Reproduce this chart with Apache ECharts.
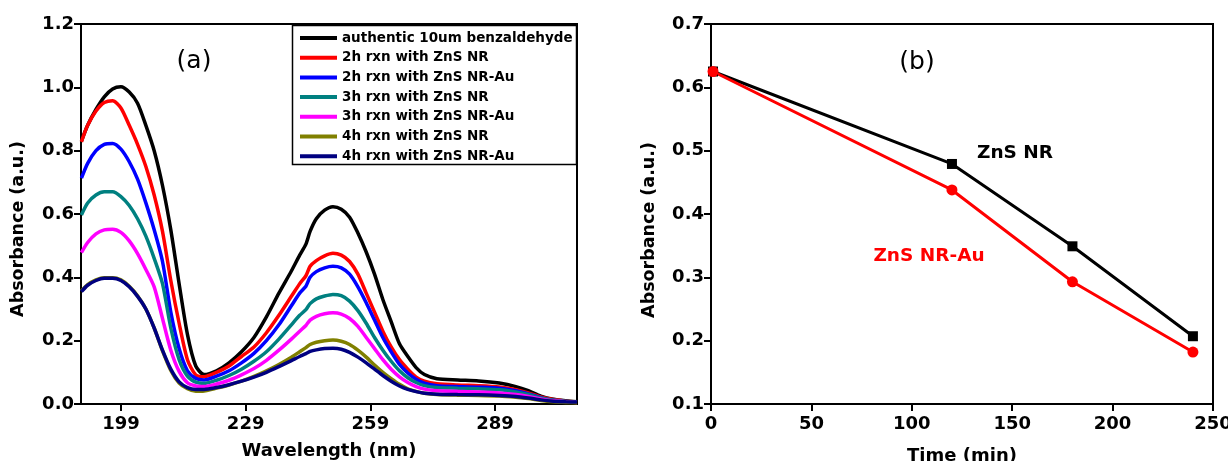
<!DOCTYPE html>
<html>
<head>
<meta charset="utf-8">
<script src="https://cdn.jsdelivr.net/npm/echarts@6/dist/echarts.min.js"></script>
<style>
  html, body { margin: 0; padding: 0; background: #fff; }
  #chart { width: 1228px; height: 461px; }
</style>
</head>
<body>
<div id="chart"></div>
<script>
// panel (a) - UV-vis spectra
var wavelength = [189.5, 191, 193, 195, 197, 199, 201, 203, 205, 207, 209, 211, 213, 215, 217, 219,
    222, 225, 228, 231, 234, 237, 240, 242, 243.5, 244.5, 246, 248, 250, 252, 254, 256, 258, 260,
    262, 264, 266, 268, 270, 272, 275, 280, 285, 290, 294, 297, 300, 303, 306, 308.7];
var wlTicks = [199, 229, 259, 289];

var authentic = [0.83, 0.88, 0.93, 0.97, 0.995, 1.002, 0.985, 0.95, 0.88, 0.80, 0.69, 0.55, 0.38, 0.22, 0.12, 0.093,
    0.105, 0.13, 0.165, 0.21, 0.275, 0.35, 0.42, 0.47, 0.505, 0.545, 0.585, 0.612, 0.623, 0.615, 0.59, 0.54, 0.48, 0.41,
    0.33, 0.26, 0.19, 0.15, 0.115, 0.093, 0.08, 0.076, 0.073, 0.066, 0.055, 0.042, 0.025, 0.015, 0.01, 0.007];
var nr2h = [0.828, 0.88, 0.925, 0.952, 0.958, 0.935, 0.88, 0.82, 0.75, 0.66, 0.545, 0.39, 0.255, 0.14, 0.092, 0.086,
    0.1, 0.12, 0.15, 0.18, 0.225, 0.28, 0.34, 0.38, 0.405, 0.435, 0.453, 0.468, 0.476, 0.47, 0.45, 0.41, 0.35, 0.29,
    0.23, 0.18, 0.14, 0.11, 0.085, 0.072, 0.064, 0.06, 0.058, 0.054, 0.045, 0.035, 0.022, 0.014, 0.009, 0.007];
var au2h = [0.713, 0.76, 0.8, 0.82, 0.823, 0.805, 0.765, 0.71, 0.635, 0.55, 0.45, 0.29, 0.175, 0.105, 0.081, 0.076,
    0.088, 0.105, 0.13, 0.16, 0.2, 0.25, 0.31, 0.35, 0.372, 0.4, 0.418, 0.43, 0.435, 0.43, 0.41, 0.37, 0.32, 0.265,
    0.21, 0.165, 0.125, 0.098, 0.078, 0.066, 0.058, 0.055, 0.053, 0.05, 0.042, 0.032, 0.02, 0.012, 0.008, 0.006];
var nr3h = [0.597, 0.635, 0.66, 0.67, 0.67, 0.655, 0.627, 0.585, 0.53, 0.46, 0.38, 0.24, 0.14, 0.088, 0.069, 0.065,
    0.075, 0.09, 0.11, 0.135, 0.165, 0.205, 0.25, 0.28, 0.298, 0.317, 0.332, 0.341, 0.346, 0.342, 0.325, 0.295, 0.255, 0.21,
    0.17, 0.135, 0.105, 0.083, 0.068, 0.058, 0.052, 0.05, 0.048, 0.045, 0.038, 0.03, 0.019, 0.012, 0.008, 0.006];
var au3h = [0.478, 0.51, 0.537, 0.55, 0.552, 0.542, 0.515, 0.475, 0.425, 0.37, 0.27, 0.17, 0.103, 0.067, 0.057, 0.055,
    0.063, 0.075, 0.092, 0.112, 0.138, 0.17, 0.205, 0.23, 0.248, 0.265, 0.277, 0.285, 0.288, 0.284, 0.27, 0.245, 0.21, 0.175,
    0.14, 0.11, 0.086, 0.068, 0.055, 0.047, 0.042, 0.04, 0.038, 0.035, 0.03, 0.024, 0.016, 0.01, 0.007, 0.005];
var nr4h = [0.357, 0.377, 0.392, 0.399, 0.399, 0.392, 0.372, 0.342, 0.30, 0.24, 0.168, 0.106, 0.066, 0.048, 0.04, 0.041,
    0.05, 0.06, 0.072, 0.087, 0.105, 0.125, 0.148, 0.165, 0.178, 0.188, 0.195, 0.2, 0.202, 0.198, 0.188, 0.17, 0.148, 0.123,
    0.1, 0.08, 0.062, 0.048, 0.04, 0.034, 0.03, 0.028, 0.027, 0.025, 0.021, 0.017, 0.011, 0.007, 0.005, 0.004];
var au4h = [0.355, 0.375, 0.39, 0.397, 0.397, 0.39, 0.37, 0.34, 0.30, 0.24, 0.17, 0.11, 0.07, 0.052, 0.046, 0.046,
    0.052, 0.061, 0.072, 0.085, 0.1, 0.118, 0.137, 0.15, 0.159, 0.166, 0.171, 0.175, 0.176, 0.173, 0.163, 0.148, 0.13, 0.11,
    0.09, 0.072, 0.057, 0.046, 0.039, 0.034, 0.031, 0.03, 0.029, 0.027, 0.024, 0.019, 0.013, 0.009, 0.007, 0.006];

var spectraNames = ['authentic 10um benzaldehyde', '2h rxn with ZnS NR', '2h rxn with ZnS NR-Au',
    '3h rxn with ZnS NR', '3h rxn with ZnS NR-Au', '4h rxn with ZnS NR', '4h rxn with ZnS NR-Au'];
var spectraColors = ['#000000', '#ff0000', '#0000ff', '#008080', '#ff00ff', '#808000', '#000080'];
var spectra = [authentic, nr2h, au2h, nr3h, au3h, nr4h, au4h];

// panel (b) - absorbance vs time
var time = [1, 120, 180, 240];
var znsNR = [0.625, 0.479, 0.349, 0.207];
var znsNRAu = [0.625, 0.438, 0.293, 0.182];

var FONT = '"DejaVu Sans", sans-serif';

function pairs(xs, ys) {
    var out = [];
    for (var i = 0; i < xs.length; i++) {
        out.push([xs[i], ys[i]]);
    }
    return out;
}

var axisLine = { show: true, lineStyle: { color: '#000', width: 2 } };
var axisTick = { show: true, length: 7, lineStyle: { color: '#000', width: 2 } };
var tickLabel = { color: '#000', fontSize: 18, fontWeight: 'bold', fontFamily: FONT };
var axisName = { color: '#000', fontSize: 18, fontWeight: 'bold', fontFamily: FONT };
function fmt1(v) { return v.toFixed(1); }

var series = [];
for (var i = 0; i < spectra.length; i++) {
    series.push({
        name: spectraNames[i],
        type: 'line',
        xAxisIndex: 0,
        yAxisIndex: 0,
        data: pairs(wavelength, spectra[i]),
        showSymbol: false,
        smooth: 0.25,
        lineStyle: { color: spectraColors[i], width: 3.5 },
        itemStyle: { color: spectraColors[i] }
    });
}
series.push({
    name: 'ZnS NR',
    type: 'line',
    xAxisIndex: 1,
    yAxisIndex: 1,
    data: pairs(time, znsNR),
    symbol: 'rect',
    symbolSize: 10,
    lineStyle: { color: '#000', width: 3 },
    itemStyle: { color: '#000' }
});
series.push({
    name: 'ZnS NR-Au',
    type: 'line',
    xAxisIndex: 1,
    yAxisIndex: 1,
    data: pairs(time, znsNRAu),
    symbol: 'circle',
    symbolSize: 11,
    lineStyle: { color: '#ff0000', width: 3 },
    itemStyle: { color: '#ff0000' }
});

var myChart = echarts.init(document.getElementById('chart'));

var option = {
    backgroundColor: '#fff',
    animation: false,
    grid: [
        { left: 81, right: 651, top: 24, bottom: 57, outerBoundsMode: 'none', containLabel: false, show: true, borderColor: '#000', borderWidth: 2 },
        { left: 711, right: 15, top: 24, bottom: 57, outerBoundsMode: 'none', containLabel: false, show: true, borderColor: '#000', borderWidth: 2 }
    ],
    xAxis: [{
        gridIndex: 0,
        type: 'value',
        min: 189.4,
        max: 308.7,
        name: 'Wavelength (nm)',
        nameLocation: 'middle',
        nameGap: 38,
        nameTextStyle: axisName,
        axisLine: axisLine,
        axisTick: Object.assign({ customValues: wlTicks }, axisTick),
        axisLabel: Object.assign({ margin: 11, customValues: wlTicks }, tickLabel),
        splitLine: { show: false }
    }, {
        gridIndex: 1,
        type: 'value',
        min: 0,
        max: 250,
        interval: 50,
        name: 'Time (min)',
        nameLocation: 'middle',
        nameGap: 43,
        nameTextStyle: axisName,
        axisLine: axisLine,
        axisTick: axisTick,
        axisLabel: Object.assign({ margin: 11 }, tickLabel),
        splitLine: { show: false }
    }],
    yAxis: [{
        gridIndex: 0,
        type: 'value',
        min: 0,
        max: 1.2,
        interval: 0.2,
        axisLine: axisLine,
        axisTick: axisTick,
        axisLabel: Object.assign({ margin: 7, formatter: fmt1 }, tickLabel),
        splitLine: { show: false }
    }, {
        gridIndex: 1,
        type: 'value',
        min: 0.1,
        max: 0.7,
        interval: 0.1,
        axisLine: axisLine,
        axisTick: axisTick,
        axisLabel: Object.assign({ margin: 7, formatter: fmt1 }, tickLabel),
        splitLine: { show: false }
    }],
    legend: {
        data: spectraNames,
        orient: 'vertical',
        left: 300,
        top: 31,
        icon: 'rect',
        itemWidth: 37,
        itemHeight: 4,
        itemGap: 5.7,
        padding: 0,
        selectedMode: false,
        textStyle: { color: '#000', fontSize: 13.5, fontWeight: 'bold', fontFamily: FONT, lineHeight: 14 }
    },
    graphic: [
        { type: 'rect', shape: { x: 292.5, y: 25.5, width: 284, height: 139 }, style: { fill: null, stroke: '#000', lineWidth: 1.5 }, z: 50 },
        { type: 'text', x: 18, y: 229, rotation: Math.PI / 2, style: { text: 'Absorbance (a.u.)', font: 'bold 17.5px ' + FONT, fill: '#000', textAlign: 'center', textVerticalAlign: 'middle' } },
        { type: 'text', x: 649, y: 230, rotation: Math.PI / 2, style: { text: 'Absorbance (a.u.)', font: 'bold 17.5px ' + FONT, fill: '#000', textAlign: 'center', textVerticalAlign: 'middle' } },
        { type: 'text', x: 194, y: 61, style: { text: '(a)', font: '25px ' + FONT, fill: '#000', textAlign: 'center', textVerticalAlign: 'middle' } },
        { type: 'text', x: 917, y: 62, style: { text: '(b)', font: '25px ' + FONT, fill: '#000', textAlign: 'center', textVerticalAlign: 'middle' } },
        { type: 'text', x: 1015, y: 153, style: { text: 'ZnS NR', font: 'bold 18.5px ' + FONT, fill: '#000', textAlign: 'center', textVerticalAlign: 'middle' } },
        { type: 'text', x: 929, y: 256, style: { text: 'ZnS NR-Au', font: 'bold 18.5px ' + FONT, fill: '#ff0000', textAlign: 'center', textVerticalAlign: 'middle' } }
    ],
    series: series
};

myChart.setOption(option);
</script>
</body>
</html>
